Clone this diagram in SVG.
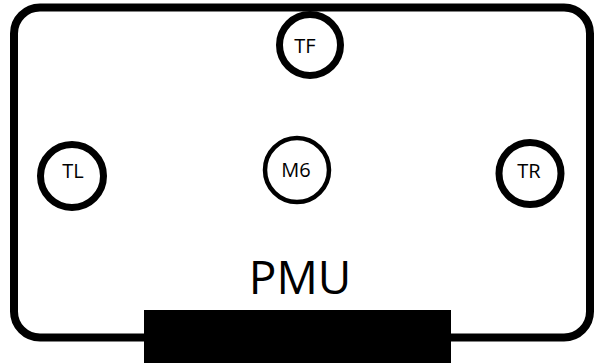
<svg xmlns="http://www.w3.org/2000/svg" width="595" height="363" viewBox="0 0 595 363">
<style>
.ring{fill:#fff;stroke:#000;stroke-width:7}
.thin{stroke-width:4.5}
.lbl{font-family:"Open Sans","Liberation Sans",sans-serif;font-size:20px;fill:#000;text-anchor:middle}
.big{font-family:"Open Sans","Liberation Sans",sans-serif;font-size:46px;fill:#000;text-anchor:middle}
</style>
<rect width="595" height="363" fill="#fff"/>
<g id="pmu">
<rect x="14" y="7.5" width="576" height="330" rx="26" ry="26" fill="none" stroke="#000" stroke-width="8"/>
<rect x="144" y="310" width="307" height="53" fill="#000"/>
<text class="big" x="300" y="294">PMU</text>
</g>
<g id="connectors"></g>
<g id="TF"><circle class="ring" cx="310" cy="45" r="30.5"/><text class="lbl" x="305" y="53">TF</text></g>
<g id="TL"><circle class="ring" cx="72" cy="176" r="31.5"/><text class="lbl" x="73" y="178">TL</text></g>
<g id="M6"><circle class="ring thin" cx="297" cy="170" r="32"/><text class="lbl" x="296" y="177">M6</text></g>
<g id="TR"><circle class="ring" cx="530" cy="173.5" r="31"/><text class="lbl" x="529" y="178">TR</text></g>
</svg>
